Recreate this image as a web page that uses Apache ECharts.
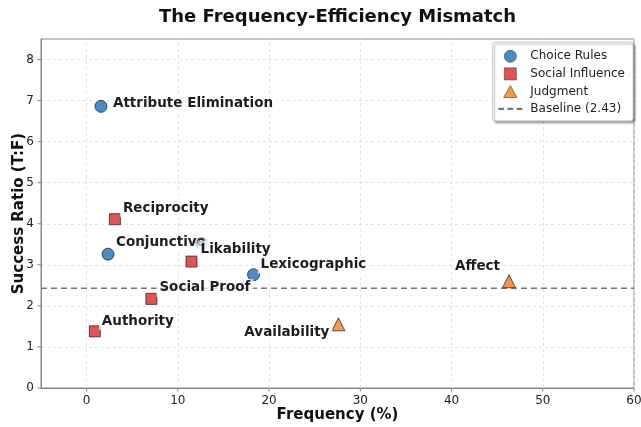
<!DOCTYPE html>
<html><head><meta charset="utf-8">
<script src="https://cdn.jsdelivr.net/npm/echarts@6/dist/echarts.min.js"></script>
<style>html,body{margin:0;padding:0;background:#fff}#c{width:641px;height:427px}</style>
</head><body><div id="c"></div>
<script>
// ---- data ----
var choiceNames = ["Attribute Elimination", "Conjunctive", "Lexicographic", ""];
var choiceX = [1.57, 2.35, 18.3, 12.6];
var choiceY = [6.86, 3.26, 2.76, 3.53];

var socialNames = ["Reciprocity", "Likability", "Social Proof", "Authority"];
var socialX = [3.1, 11.5, 7.1, 0.9];
var socialY = [4.11, 3.08, 2.17, 1.38];

var judgNames = ["Availability", "Affect"];
var judgX = [27.6, 46.3];
var judgY = [1.55, 2.6];

var baseline = 2.43;
var xTicks = [0, 10, 20, 30, 40, 50, 60];
var yTicks = [0, 1, 2, 3, 4, 5, 6, 7, 8];

var xMin = -5, xMax = 60, yMin = 0, yMax = 8.5;

// label placement (px offsets from marker centre)
var labelPlace = {
  "Attribute Elimination": [9, -3, "left"],
  "Conjunctive": [5, -12, "left"],
  "Lexicographic": [4, -10, "left"],
  "Reciprocity": [5, -11, "left"],
  "Likability": [6, -12, "left"],
  "Social Proof": [5, -11, "left"],
  "Authority": [4, -10, "left"],
  "Availability": [-6, 8, "right"],
  "Affect": [-6, -15, "right"]
};

function build(names, xs, ys) {
  return names.map(function (n, i) {
    var item = { name: n, value: [xs[i], ys[i]] };
    if (n && labelPlace[n]) {
      var p = labelPlace[n];
      item.label = { show: true, offset: [p[0], p[1]], align: p[2] };
    } else {
      item.label = { show: false };
    }
    return item;
  });
}

var font = "DejaVu Sans";
var labelStyle = {
  show: true,
  position: ["50%", "50%"],
  verticalAlign: "middle",
  formatter: "{b}",
  fontFamily: font,
  fontWeight: "bold",
  fontSize: 13.5,
  color: "#111",
  backgroundColor: "rgba(255,255,255,0.7)",
  padding: [2, 3]
};

var gridSegs = xTicks.map(function (v) { return { coords: [[v, yMin], [v, yMax]] }; })
  .concat(yTicks.map(function (v) { return { coords: [[xMin, v], [xMax, v]] }; }));

// tick marks drawn through the axis scales (custom series, not clipped)
var tickData = xTicks.map(function (v) { return [v, yMin, 0]; })
  .concat(yTicks.map(function (v) { return [xMin, v, 1]; }));

var chart = echarts.init(document.getElementById("c"), null, { renderer: "canvas" });
chart.setOption({
  animation: false,
  backgroundColor: "#fff",
  title: {
    text: "The Frequency-Efficiency Mismatch",
    left: 154, top: 3,
    textStyle: { fontFamily: font, fontWeight: "bold", fontSize: 18, color: "#111" }
  },
  grid: { left: 41, right: 7, top: 39, bottom: 39, containLabel: false, outerBoundsMode: "none",
          show: true, borderColor: "#888", borderWidth: 1 },
  legend: {
    orient: "vertical",
    right: 8, top: 42,
    padding: [8, 8, 6, 6],
    itemGap: 5,
    itemWidth: 24, itemHeight: 12,
    symbolKeepAspect: true,
    backgroundColor: "#fff",
    borderColor: "#ccc", borderWidth: 1, borderRadius: 3,
    shadowColor: "rgba(0,0,0,0.35)", shadowOffsetX: 2, shadowOffsetY: 2, shadowBlur: 2,
    textStyle: { fontFamily: font, fontSize: 12, color: "#222", padding: [0, 0, 0, 3] },
    data: [
      { name: "Choice Rules", icon: "circle", itemStyle: { borderWidth: 0.6, borderColor: "#333" } },
      { name: "Social Influence", icon: "path://M0,0H10V10H0Z", itemStyle: { borderWidth: 0.6, borderColor: "#333" } },
      { name: "Judgment", icon: "path://M5,0L10,9L0,9Z", itemStyle: { borderWidth: 0.6, borderColor: "#333" } },
      { name: "Baseline (" + baseline + ")",
        icon: "path://M0,5H5V7H0Z M8,5H13V7H8Z M16,5H21V7H16Z",
        itemStyle: { color: "#777", borderWidth: 0 } }
    ]
  },
  xAxis: {
    type: "value", min: xMin, max: xMax, interval: 5,
    name: "Frequency (%)", nameLocation: "middle", nameGap: 20, nameMoveOverlap: false,
    nameTextStyle: { fontFamily: font, fontWeight: "bold", fontSize: 15, color: "#111", verticalAlign: "top" },
    axisLine: { show: true, onZero: false, lineStyle: { color: "#888" } },
    axisTick: { show: false },
    axisLabel: {
      fontFamily: font, fontSize: 12, color: "#222", margin: 7,
      formatter: function (v) { return xTicks.indexOf(v) >= 0 ? String(v) : ""; }
    },
    splitLine: { show: false }
  },
  yAxis: {
    type: "value", min: yMin, max: yMax, interval: 0.5,
    name: "Success Ratio (T:F)", nameLocation: "middle", nameGap: 14, nameMoveOverlap: false,
    nameTextStyle: { fontFamily: font, fontWeight: "bold", fontSize: 15, color: "#111", verticalAlign: "bottom" },
    axisLine: { show: true, onZero: false, lineStyle: { color: "#888" } },
    axisTick: { show: false },
    axisLabel: {
      fontFamily: font, fontSize: 12, color: "#222", margin: 7,
      formatter: function (v) { return yTicks.indexOf(v) >= 0 ? String(v) : ""; }
    },
    splitLine: { show: false }
  },
  series: [
    {
      type: "lines", coordinateSystem: "cartesian2d", silent: true,
      data: gridSegs,
      lineStyle: { color: "#e2e2e2", type: [3, 3], width: 1, opacity: 1 },
      z: 0
    },
    {
      type: "custom", silent: true, clip: false,
      data: tickData,
      renderItem: function (params, api) {
        var p = api.coord([api.value(0), api.value(1)]);
        var vertical = api.value(2) === 0;
        return {
          type: "line",
          shape: vertical ? { x1: p[0], y1: p[1], x2: p[0], y2: p[1] + 3.5 }
                          : { x1: p[0], y1: p[1], x2: p[0] - 3.5, y2: p[1] },
          style: { stroke: "#888", lineWidth: 1 }
        };
      },
      z: 1
    },
    {
      name: "Baseline (" + baseline + ")", type: "line", symbol: "none",
      data: [[xMin, baseline], [xMax, baseline]],
      lineStyle: { color: "#777", width: 1.6, type: [6, 4] },
      itemStyle: { color: "#777" },
      z: 1
    },
    {
      name: "Choice Rules", type: "scatter", symbol: "circle", symbolSize: 12,
      data: build(choiceNames, choiceX, choiceY),
      itemStyle: { color: "#3f86c2", borderColor: "#222", borderWidth: 0.8, opacity: 0.95 },
      label: labelStyle, z: 3
    },
    {
      name: "Social Influence", type: "scatter", symbol: "rect", symbolSize: 11,
      data: build(socialNames, socialX, socialY),
      itemStyle: { color: "#e04a4a", borderColor: "#222", borderWidth: 0.8, opacity: 0.95 },
      label: labelStyle, z: 3
    },
    {
      name: "Judgment", type: "scatter", symbol: "triangle", symbolSize: 13,
      data: build(judgNames, judgX, judgY),
      itemStyle: { color: "#f4923a", borderColor: "#222", borderWidth: 0.8, opacity: 0.95 },
      label: labelStyle, z: 3
    }
  ]
});
</script></body></html>
